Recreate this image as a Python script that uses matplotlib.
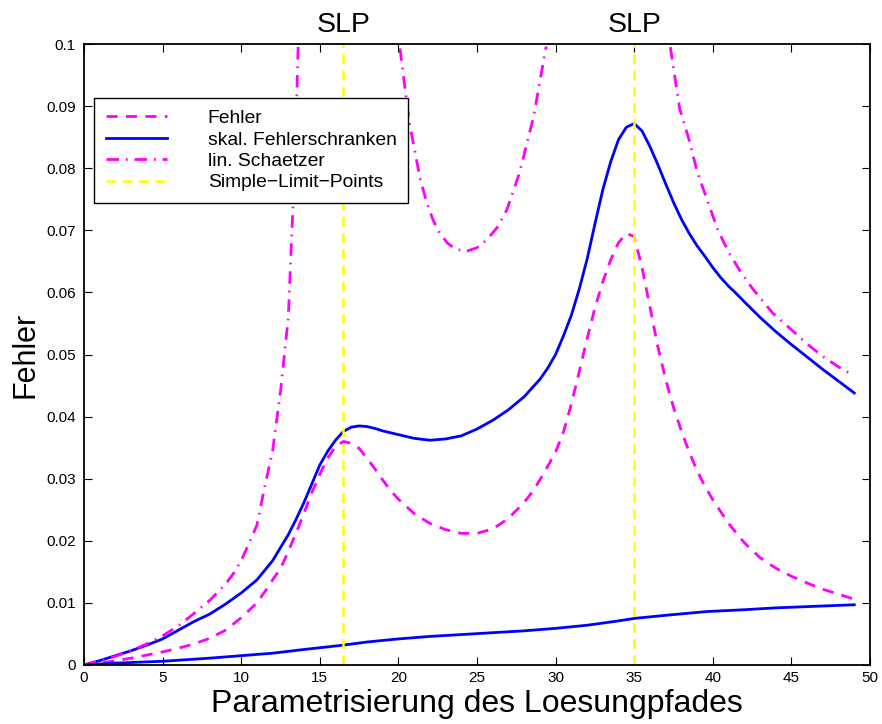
import matplotlib
matplotlib.use("Agg")
import matplotlib.pyplot as plt
import matplotlib.transforms as mtransforms
import numpy as np

plt.rcParams['font.family'] = ['Liberation Sans', 'DejaVu Sans']

# Fehler (magenta dashed)
fehler_x = [0, 1, 2, 3, 4, 5, 6, 7, 8, 9, 10, 11, 11.5, 12, 12.5, 13, 13.5, 14, 14.5,
            15, 15.5, 16, 16.5, 17, 17.5, 18, 18.5, 19, 19.5, 20, 21, 22, 23, 24, 25,
            26, 27, 28, 28.5, 29, 29.5, 30, 30.5, 31, 31.5, 32, 32.5, 33, 33.5, 34,
            34.5, 35, 35.5, 36, 36.5, 37, 37.5, 38, 38.5, 39, 39.5, 40, 41, 42, 43,
            44, 45, 46, 47, 48, 49]
fehler_y = [0, 0.0003, 0.0007, 0.0011, 0.0016, 0.0021, 0.0027, 0.0034, 0.0043, 0.0056,
            0.0076, 0.0100, 0.0118, 0.0137, 0.0155, 0.0183, 0.0213, 0.0245, 0.0278,
            0.0307, 0.0333, 0.0352, 0.0360, 0.0357, 0.0349, 0.0333, 0.0316, 0.0298,
            0.0281, 0.0267, 0.0244, 0.0228, 0.0218, 0.0212, 0.0212, 0.0219, 0.0236,
            0.0262, 0.0278, 0.0298, 0.0320, 0.0343, 0.0375, 0.0420, 0.0472, 0.0525,
            0.0575, 0.0617, 0.0652, 0.0680, 0.0695, 0.0690, 0.0640, 0.0577, 0.0513,
            0.0460, 0.0415, 0.0377, 0.0343, 0.0313, 0.0288, 0.0266, 0.0228, 0.0197,
            0.0173, 0.0156, 0.0143, 0.0132, 0.0122, 0.0114, 0.0106]

# skal. Fehlerschranken, upper bound (blue)
upper_x = [0, 1, 2, 3, 4, 5, 6, 7, 8, 9, 10, 11, 12, 13, 13.5, 14, 14.5, 15, 15.5, 16,
           16.5, 17, 17.5, 18, 18.5, 19, 20, 21, 22, 23, 24, 25, 26, 27, 28, 28.5, 29,
           29.5, 30, 30.5, 31, 31.5, 32, 32.5, 33, 33.5, 34, 34.5, 35, 35.5, 36, 36.5,
           37, 37.5, 38, 38.5, 39, 39.5, 40, 40.5, 41, 41.5, 42, 43, 44, 45, 46, 47,
           48, 49]
upper_y = [0, 0.0007, 0.0015, 0.0023, 0.0032, 0.0042, 0.0056, 0.0070, 0.0082, 0.0098,
           0.0116, 0.0137, 0.0168, 0.0210, 0.0235, 0.0262, 0.0292, 0.0322, 0.0344,
           0.0362, 0.0376, 0.0383, 0.0385, 0.0384, 0.0381, 0.0377, 0.0371, 0.0365,
           0.0362, 0.0364, 0.0369, 0.0380, 0.0394, 0.0411, 0.0432, 0.0446, 0.0460,
           0.0478, 0.0500, 0.0530, 0.0563, 0.0605, 0.0653, 0.0710, 0.0765, 0.0810,
           0.0846, 0.0866, 0.0872, 0.0860, 0.0835, 0.0806, 0.0775, 0.0745, 0.0718,
           0.0695, 0.0675, 0.0658, 0.0640, 0.0624, 0.0610, 0.0598, 0.0585, 0.0560,
           0.0537, 0.0516, 0.0496, 0.0476, 0.0457, 0.0438]

# skal. Fehlerschranken, lower bound (blue)
lower_x = [0, 2, 5, 8, 10, 12, 14, 16.5, 18, 20, 22, 24, 26, 28, 30, 32, 34, 35, 37,
           39.6, 42, 44, 46, 49]
lower_y = [0, 0.0003, 0.0006, 0.0011, 0.0015, 0.0019, 0.0025, 0.0032, 0.0037, 0.0042,
           0.0046, 0.0049, 0.0052, 0.0055, 0.0059, 0.0064, 0.0071, 0.0075, 0.0080,
           0.0086, 0.0089, 0.0092, 0.0094, 0.0097]

# lin. Schaetzer (magenta dash-dot), three branches leaving the top of the plot
schaetzer_x = [0, 1, 2, 3, 4, 5, 6, 7, 8, 9, 9.5, 10, 10.5, 11, 11.5, 12, 12.5, 13,
               13.2, 13.4, 13.63, np.nan,
               20.1, 20.7, 21.4, 21.8, 22.2, 22.6, 23.1, 23.6, 24.3, 25, 25.6, 26.3,
               26.9, 27.7, 28.6, 29.4, np.nan,
               37.3, 37.9, 38.5, 39, 39.6, 40.3, 41, 41.7, 42.5, 43.8, 45, 46, 47, 48,
               49]
schaetzer_y = [0, 0.0006, 0.0014, 0.0023, 0.0034, 0.0047, 0.0063, 0.0083, 0.0104,
               0.0130, 0.0147, 0.0168, 0.0196, 0.0225, 0.0287, 0.0345, 0.0440, 0.0560,
               0.0684, 0.0792, 0.1000, np.nan,
               0.0993, 0.0873, 0.0781, 0.0745, 0.0717, 0.0697, 0.0680, 0.0670, 0.0666,
               0.0672, 0.0684, 0.0705, 0.0733, 0.0792, 0.0883, 0.0996, np.nan,
               0.0995, 0.0895, 0.0845, 0.0795, 0.0752, 0.0702, 0.0665, 0.0636, 0.0607,
               0.0567, 0.0540, 0.0517, 0.0497, 0.0480, 0.0466]

slp_x = [16.5, 35]

fig = plt.figure(figsize=(8.82, 7.24), dpi=100)
ax = fig.add_axes([0.0952, 0.0815, 0.8912, 0.8577])

magenta = '#ff00ff'
blue = '#0000ff'
yellow = '#ffff00'

ax.plot(fehler_x, fehler_y, color=magenta, lw=2.0, dashes=(4, 3), label='Fehler')
ax.plot(upper_x, upper_y, color=blue, lw=2.0, label='skal. Fehlerschranken')
ax.plot(schaetzer_x, schaetzer_y, color=magenta, lw=2.0,
        dashes=(4.5, 2.5, 0.6, 2.5), label='lin. Schaetzer')
ax.plot(lower_x, lower_y, color=blue, lw=2.0)
for i, xs in enumerate(slp_x):
    ax.axvline(xs, color=yellow, lw=1.8, dashes=(4, 2.5),
               label='Simple\u2212Limit\u2212Points' if i == 0 else None)

trans = mtransforms.blended_transform_factory(ax.transData, ax.transAxes)
for xs in slp_x:
    ax.text(xs, 1.030, 'SLP', transform=trans, ha='center', va='center', fontsize=20.5)

ax.set_xlim(0, 50)
ax.set_ylim(0, 0.1)
ax.set_xticks(np.arange(0, 51, 5))
ax.set_yticks(np.arange(0, 0.101, 0.01))
ax.set_yticklabels(['0', '0.01', '0.02', '0.03', '0.04', '0.05', '0.06', '0.07',
                    '0.08', '0.09', '0.1'])
ax.tick_params(direction='in', top=True, right=True, length=6, width=0.8,
               labelsize=11)
ax.tick_params(axis='x', pad=4)
ax.tick_params(axis='y', pad=6)
for s in ax.spines.values():
    s.set_linewidth(1.3)

ax.set_xlabel('Parametrisierung des Loesungpfades', fontsize=23, labelpad=3)
ax.set_ylabel('Fehler', fontsize=22, labelpad=4)

leg = ax.legend(loc='upper left', bbox_to_anchor=(0.0127, 0.913), fontsize=13.9,
                handlelength=3.2, handletextpad=2.1, labelspacing=0.2,
                borderpad=0.6, borderaxespad=0, fancybox=False, framealpha=1,
                edgecolor='black')
leg.get_frame().set_linewidth(1.0)

fig.savefig('out.png', dpi=100)
